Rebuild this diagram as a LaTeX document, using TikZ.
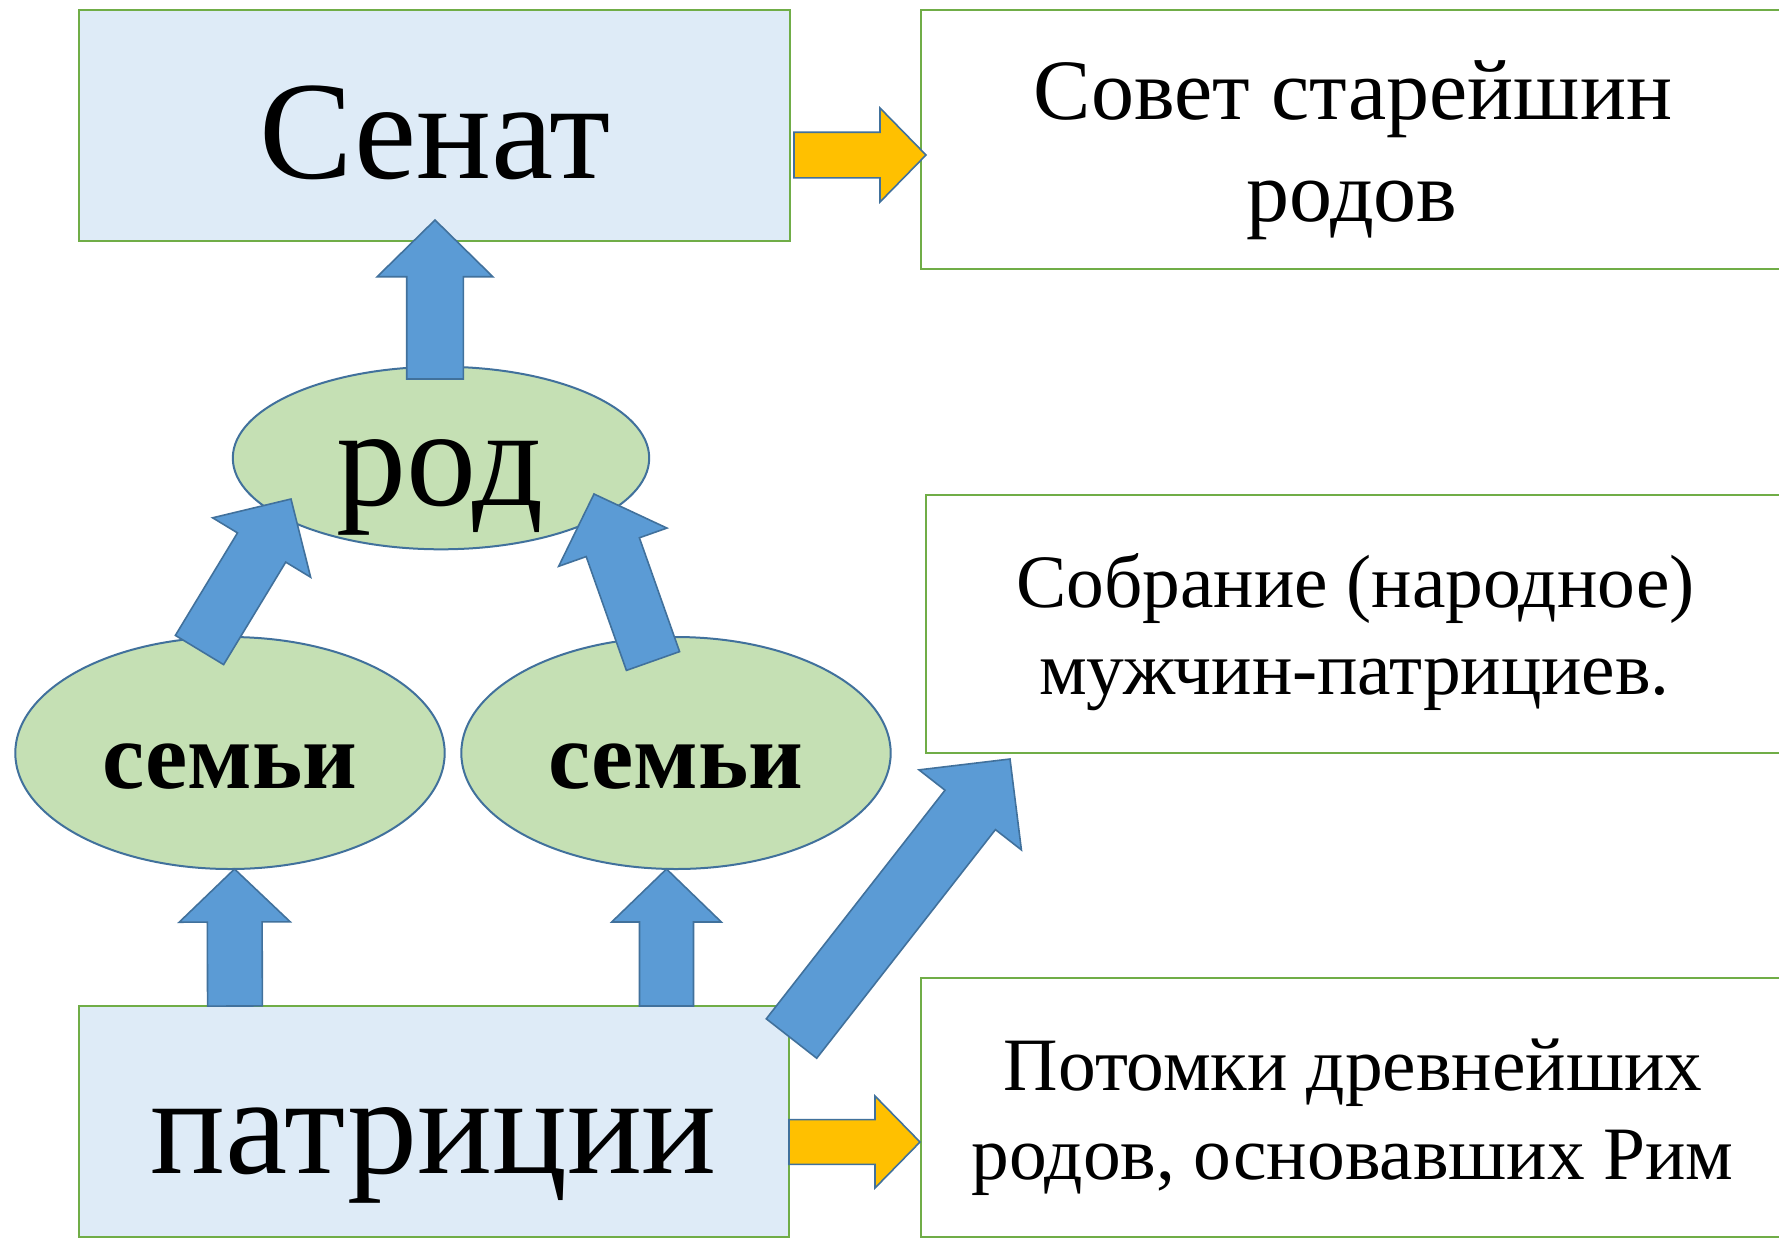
\documentclass[tikz,border=0pt]{standalone}
\usepackage{fontspec}
\setmainfont{Liberation Serif}
\usetikzlibrary{shapes.geometric,calc}
\definecolor{boxblue}{HTML}{DEEBF7}
\definecolor{boxgreen}{HTML}{70AD47}
\definecolor{ovalfill}{HTML}{C5E0B4}
\definecolor{ovalline}{HTML}{41719C}
\definecolor{arrowblue}{HTML}{5B9BD5}
\definecolor{arrowline}{HTML}{41719C}
\definecolor{arrowyellow}{HTML}{FFC000}
% #1 style, #2 tail centre, #3 tip, #4 shaft half width, #5 head half width, #6 head length
\newcommand{\blockarrow}[6]{%
  \path ($(#3)!#6!(#2)$) coordinate (ba-base);
  \filldraw[#1] ($(#2)!#4!90:(#3)$) -- ($(ba-base)!#4!90:(#3)$) -- ($(ba-base)!#5!90:(#3)$)
    -- (#3) -- ($(ba-base)!#5!-90:(#3)$) -- ($(ba-base)!#4!-90:(#3)$) -- ($(#2)!#4!-90:(#3)$) -- cycle;
}
\tikzset{
  bluebox/.style={rectangle, draw=boxgreen, fill=boxblue, line width=1pt, inner sep=0pt, outer sep=0pt},
  whitebox/.style={rectangle, draw=boxgreen, fill=white, line width=1pt, inner sep=0pt, outer sep=0pt},
  oval/.style={ellipse, draw=ovalline, fill=ovalfill, line width=1pt, inner sep=0pt, outer sep=0pt},
  bluearrow/.style={fill=arrowblue, draw=arrowline, line width=0.8pt, line join=miter},
  yellowarrow/.style={fill=arrowyellow, draw=arrowline, line width=0.8pt, line join=miter},
  txt/.style={inner sep=0pt, outer sep=0pt, anchor=base, text=black},
  bigtxt/.style={txt, font=\fontsize{70}{84}\selectfont},
  midtxt/.style={txt, font=\fontsize{43}{51}\selectfont},
  smalltxt/.style={txt, font=\fontsize{37.7}{45}\selectfont},
  boldtxt/.style={txt, font=\fontsize{47.5}{57}\selectfont\bfseries},
}
\begin{document}
\begin{tikzpicture}[x=0.5pt, y=-0.5pt]
\useasboundingbox (0,0) rectangle (1779,1239);
\fill[white] (0,0) rectangle (1779,1239);

% boxes
\node[bluebox, minimum width=355.25pt, minimum height=115.5pt] (senat) at (434.25,125.5) {};
\node[whitebox, minimum width=432.7pt, minimum height=129.15pt] (sovet) at (1353.3,139.5) {};
\node[whitebox, minimum width=430.25pt, minimum height=129pt] (sobranie) at (1355.75,623.5) {};
\node[whitebox, minimum width=432.7pt, minimum height=129.3pt] (potomki) at (1353.3,1107.3) {};
\node[bluebox, minimum width=355pt, minimum height=115.65pt] (patricii) at (434,1121.35) {};

% ovals
\node[oval, minimum width=208.2pt, minimum height=91.3pt] (rod) at (441,458) {};
\node[oval, minimum width=214.7pt, minimum height=116pt] (semyil) at (230,753) {};
\node[oval, minimum width=214.7pt, minimum height=116pt] (semyir) at (676,753) {};

% texts
\node[bigtxt] (senat-t) at (435,178) {Сенат};
\node[bigtxt] (rod-t) at (440,505) {род};
\node[bigtxt] (patricii-t) at (434,1173) {патриции};
\node[boldtxt] (semyil-t) at (230,788) {семьи};
\node[boldtxt] (semyir-t) at (676,788) {семьи};
\node[midtxt] (sovet-a) at (1353,119.5) {Совет старейшин};
\node[midtxt] (sovet-b) at (1352,221) {родов};
\node[smalltxt] (sobranie-a) at (1355.5,607) {Собрание (народное)};
\node[smalltxt] (sobranie-b) at (1354.5,694) {мужчин-патрициев.};
\node[smalltxt] (potomki-a) at (1353,1090.5) {Потомки древнейших};
\node[smalltxt] (potomki-b) at (1352.5,1179) {родов, основавших Рим};

% arrow end points
\coordinate (a1s) at (435,379);     \coordinate (a1e) at (435,220);
\coordinate (a2s) at (235,1006);    \coordinate (a2e) at (234.5,869);
\coordinate (a3s) at (666.5,1006);  \coordinate (a3e) at (666.5,869);
\coordinate (a4s) at (199.5,650);   \coordinate (a4e) at (291,499);
\coordinate (a5s) at (653,661);     \coordinate (a5e) at (594,494);
\coordinate (a6s) at (791.5,1038.5);\coordinate (a6e) at (1010,759);
\coordinate (y1s) at (794,155);     \coordinate (y1e) at (926,155);
\coordinate (y2s) at (789,1142);    \coordinate (y2e) at (920,1142);

% arrows
\blockarrow{bluearrow}{a1s}{a1e}{14.15pt}{28.9pt}{28.35pt}
\blockarrow{bluearrow}{a2s}{a2e}{13.7pt}{27.75pt}{26.5pt}
\blockarrow{bluearrow}{a3s}{a3e}{13.5pt}{27.4pt}{26.5pt}
\blockarrow{bluearrow}{a4s}{a4e}{14.1pt}{28.65pt}{28.35pt}
\blockarrow{bluearrow}{a5s}{a5e}{14.1pt}{28.7pt}{28.2pt}
\blockarrow{bluearrow}{a6s}{a6e}{16pt}{32.5pt}{32.3pt}
\blockarrow{yellowarrow}{y1s}{y1e}{11.4pt}{23.5pt}{23pt}
\blockarrow{yellowarrow}{y2s}{y2e}{11.2pt}{23pt}{22.5pt}
\end{tikzpicture}
\end{document}
